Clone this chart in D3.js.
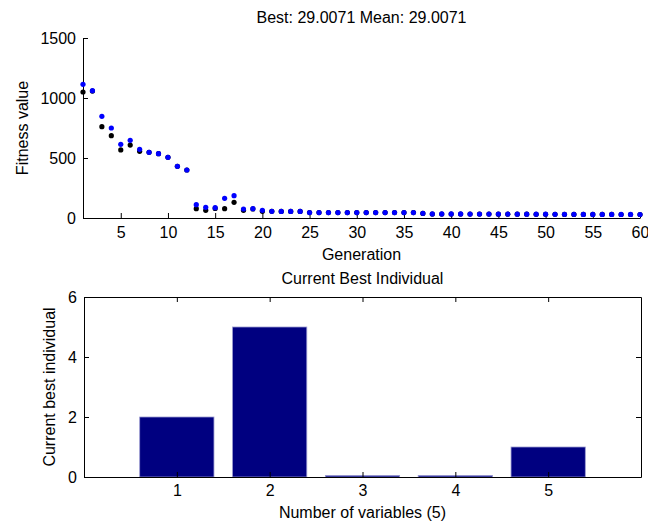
<!DOCTYPE html>
<html>
<head>
<meta charset="utf-8">
<script src="https://cdn.jsdelivr.net/npm/d3@7"></script>
<style>
  html, body { margin: 0; padding: 0; background: #fff; }
  svg text { font-family: "Liberation Sans", Arial, Helvetica, sans-serif; fill: #000; }
</style>
</head>
<body>
<svg id="fig" width="648" height="524"></svg>
<script>
// Fitness per generation of the genetic algorithm run
const generations = d3.range(1, 61);
const meanFitness = [1114, 1061, 847, 750, 614, 647, 572, 547, 536, 506,
                     431, 400, 111, 89, 86, 164, 186, 75, 78, 64,
                     56, 55, 55, 55, 45, 45, 45, 45, 45, 45,
                     45, 45, 45, 45, 45, 45, 39, 34, 34, 34,
                     34, 33, 33, 33, 33, 33, 32, 32, 32, 32,
                     31, 31, 31, 30, 30, 30, 30, 30, 30, 29.0071];
const bestFitness = [1050, 1058, 761, 686, 567, 608, 556, 547, 536, 506,
                     431, 400, 78, 64, 80, 78, 131, 64, 76, 56,
                     56, 55, 55, 55, 45, 45, 45, 45, 45, 45,
                     45, 45, 45, 45, 45, 45, 38, 33, 33, 33,
                     33, 33, 33, 33, 32, 32, 32, 32, 31, 31,
                     31, 30, 30, 30, 30, 29.5, 29.5, 29.2, 29.1, 29.0071];
const fitnessTicks = [0, 500, 1000, 1500];
const generationTicks = d3.range(5, 61, 5);

// Current best individual
const variables = [1, 2, 3, 4, 5];
const individual = [2, 5, 0.05, 0.05, 1];
const individualTicks = [0, 2, 4, 6];

const svg = d3.select("#fig");
const FS = 16;
const tickLen = 5;
const fmt = d3.format("d");

function styleAxis(a) {
  a.selectAll("path.domain").attr("stroke", "#000").attr("stroke-width", 1);
  a.selectAll(".tick line").attr("stroke", "#000");
  a.selectAll("text").attr("font-size", FS).attr("font-family", null);
}

// ---------- Upper panel: fitness scatter ----------
const box1 = { left: 83, right: 640, top: 38, bottom: 218 };
const x1 = d3.scaleLinear().domain([1, 60]).range([box1.left, box1.right]);
const y1 = d3.scaleLinear().domain([0, 1500]).range([box1.bottom, box1.top]);

const g1 = svg.append("g");
styleAxis(g1.append("g").attr("transform", `translate(0,${box1.bottom})`)
  .call(d3.axisBottom(x1).tickValues(generationTicks).tickFormat(fmt)
    .tickSizeInner(-tickLen).tickSizeOuter(0).tickPadding(9)));
styleAxis(g1.append("g").attr("transform", `translate(${box1.left},0)`)
  .call(d3.axisLeft(y1).tickValues(fitnessTicks).tickFormat(fmt)
    .tickSizeInner(-tickLen).tickSizeOuter(0).tickPadding(7)));

g1.append("g").selectAll("circle")
  .data(generations)
  .join("circle")
  .attr("cx", (d) => x1(d))
  .attr("cy", (d, i) => y1(bestFitness[i]))
  .attr("r", 2.6)
  .attr("fill", "#000");

g1.append("g").selectAll("circle")
  .data(generations)
  .join("circle")
  .attr("cx", (d) => x1(d))
  .attr("cy", (d, i) => y1(meanFitness[i]))
  .attr("r", 2.6)
  .attr("fill", "#0000ff");

const cx1 = (box1.left + box1.right) / 2;
svg.append("text").attr("x", cx1).attr("y", 23).attr("text-anchor", "middle").attr("font-size", FS)
  .text(`Best: ${bestFitness[bestFitness.length - 1]} Mean: ${meanFitness[meanFitness.length - 1]}`);
svg.append("text").attr("x", cx1).attr("y", 260).attr("text-anchor", "middle").attr("font-size", FS)
  .text("Generation");
svg.append("text").attr("transform", `translate(28,${(box1.top + box1.bottom) / 2}) rotate(-90)`)
  .attr("text-anchor", "middle").attr("font-size", FS).text("Fitness value");

// ---------- Lower panel: bar chart ----------
const box2 = { left: 84, right: 641, top: 297, bottom: 477 };
const x2 = d3.scaleLinear().domain([0, 6]).range([box2.left, box2.right]);
const y2 = d3.scaleLinear().domain([0, 6]).range([box2.bottom, box2.top]);
const barW = 0.8;

const g2 = svg.append("g");
g2.append("g").selectAll("rect")
  .data(variables)
  .join("rect")
  .attr("x", (d) => x2(d - barW / 2))
  .attr("width", (d) => x2(d + barW / 2) - x2(d - barW / 2))
  .attr("y", (d, i) => y2(individual[i]))
  .attr("height", (d, i) => y2(0) - y2(individual[i]))
  .attr("fill", "#000080")
  .attr("stroke", "#9a9ad0")
  .attr("stroke-width", 0.8);

styleAxis(g2.append("g").attr("transform", `translate(0,${box2.bottom})`)
  .call(d3.axisBottom(x2).tickValues(variables).tickFormat(fmt)
    .tickSizeInner(-tickLen).tickSizeOuter(0).tickPadding(8)));
styleAxis(g2.append("g").attr("transform", `translate(0,${box2.top})`)
  .call(d3.axisTop(x2).tickValues(variables).tickFormat("")
    .tickSizeInner(-tickLen).tickSizeOuter(0)));
styleAxis(g2.append("g").attr("transform", `translate(${box2.left},0)`)
  .call(d3.axisLeft(y2).tickValues(individualTicks).tickFormat(fmt)
    .tickSizeInner(-tickLen).tickSizeOuter(0).tickPadding(7)));
styleAxis(g2.append("g").attr("transform", `translate(${box2.right},0)`)
  .call(d3.axisRight(y2).tickValues(individualTicks).tickFormat("")
    .tickSizeInner(-tickLen).tickSizeOuter(0)));

const cx2 = (box2.left + box2.right) / 2;
svg.append("text").attr("x", cx2).attr("y", 284).attr("text-anchor", "middle").attr("font-size", FS)
  .text("Current Best Individual");
svg.append("text").attr("x", cx2).attr("y", 518).attr("text-anchor", "middle").attr("font-size", FS)
  .text("Number of variables (5)");
svg.append("text").attr("transform", `translate(55,${(box2.top + box2.bottom) / 2}) rotate(-90)`)
  .attr("text-anchor", "middle").attr("font-size", FS).text("Current best individual");
</script>
</body>
</html>
